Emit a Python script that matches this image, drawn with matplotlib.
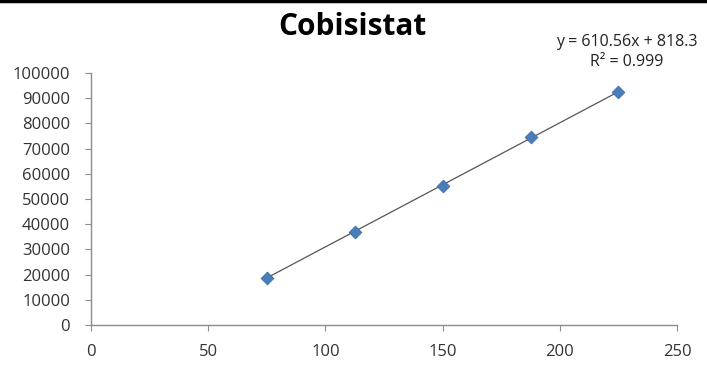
import numpy as np
import matplotlib
matplotlib.use("Agg")
import matplotlib.pyplot as plt

# Calibration data
concentration = [75, 112.5, 150, 187.5, 225]
peak_area = [18800, 37000, 55300, 74700, 92300]
x_ticks = [0, 50, 100, 150, 200, 250]
y_ticks = [0, 10000, 20000, 30000, 40000, 50000, 60000, 70000, 80000, 90000, 100000]
title = "Cobisistat"
equation_text = "y = 610.56x + 818.3"
r2_text = "R² = 0.999"

plt.rcParams['font.family'] = ['Open Sans', 'DejaVu Sans']

fig = plt.figure(figsize=(7.07, 3.65), dpi=100)
ax = fig.add_axes([0.1287, 0.1096, 0.8289, 0.6904])

# Linear trendline through the measured points
coef = np.polyfit(concentration, peak_area, 1)
xs = np.array([concentration[0], concentration[-1]])
ax.plot(xs, np.polyval(coef, xs), color='#555555', lw=0.9, zorder=2)

ax.scatter(concentration, peak_area, marker='D', s=42, color='#4a7ebb',
           edgecolors='#3d6ea8', linewidths=0.6, zorder=3)

ax.set_xlim(0, 250)
ax.set_ylim(0, 100000)
ax.set_xticks(x_ticks)
ax.set_yticks(y_ticks)
ax.set_xticklabels([str(v) for v in x_ticks])
ax.set_yticklabels([str(v) for v in y_ticks])

for side in ['top', 'right']:
    ax.spines[side].set_visible(False)
for side in ['left', 'bottom']:
    ax.spines[side].set_color('#8c8c8c')
    ax.spines[side].set_linewidth(1.0)

ax.tick_params(axis='both', direction='out', length=4, width=0.8,
               color='#8c8c8c', labelcolor='#333333', labelsize=12)
ax.tick_params(axis='y', pad=11)
ax.tick_params(axis='x', pad=10)

fig.text(0.498, 0.925, title, ha='center', va='center', fontsize=21.5,
         fontweight='bold', color='#000000')
fig.text(0.886, 0.885, equation_text, ha='center', va='center',
         fontsize=11.5, color='#222222')
fig.text(0.887, 0.830, r2_text, ha='center', va='center',
         fontsize=11.5, color='#222222')

# Dark band across the top edge
fig.add_artist(plt.Line2D([0, 1], [0.997, 0.997], transform=fig.transFigure,
                          color='black', lw=2.5))

fig.savefig('out.png', dpi=100, facecolor='white')
